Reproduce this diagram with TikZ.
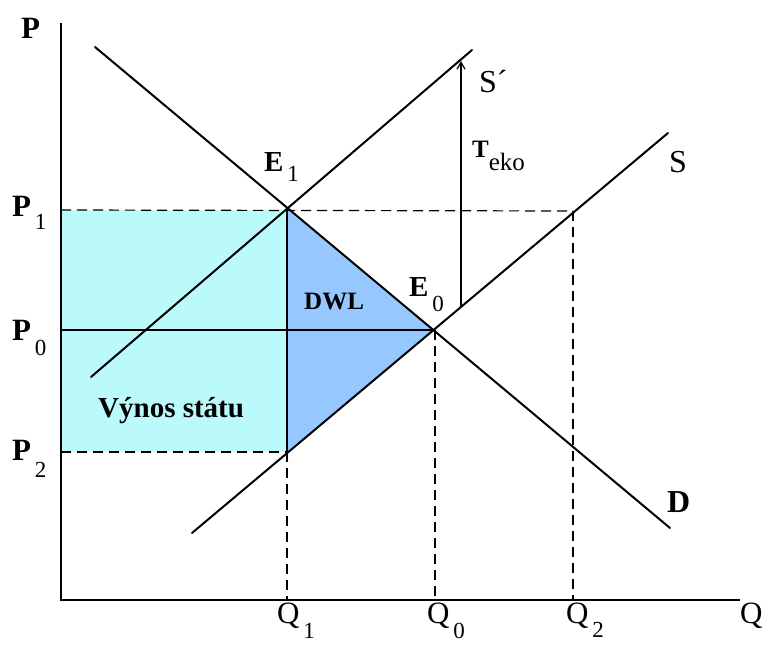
\documentclass[tikz,border=0pt]{standalone}
\usepackage{fontspec}
\setmainfont{Liberation Serif}
\usetikzlibrary{arrows.meta}
\definecolor{revcyan}{RGB}{187,250,250}
\definecolor{dwlblue}{RGB}{150,200,255}
\newcommand{\labsub}[3]{#1\raisebox{-#3pt}{\mdseries\fontsize{23}{23}\selectfont\,#2}}
\tikzset{
  curve/.style={line width=2pt, line cap=round},
  axis/.style={line width=1.6pt},
  guide/.style={line width=1.2pt},
  dguide/.style={line width=1.2pt, dash pattern=on 10pt off 6pt},
  lab/.style={inner sep=0pt, anchor=base west, font=\fontsize{31}{31}\selectfont},
  blab/.style={lab, font=\fontsize{31}{31}\selectfont\bfseries},
}
\begin{document}
\begin{tikzpicture}[x=1pt,y=-1pt]
\useasboundingbox (0,0) rectangle (766,647);
% key points
\coordinate (O) at (61,600);
\coordinate (Ytop) at (61,23);
\coordinate (Xend) at (740,600);
\coordinate (E1) at (287,209);
\coordinate (E0) at (435,330);
\coordinate (B) at (287,452);
\coordinate (C) at (573,211);
\coordinate (P1a) at (61,210);
\coordinate (P0a) at (61,330);
\coordinate (P2a) at (61,452);
\coordinate (Q1a) at (287,600);
\coordinate (Q0a) at (435,600);
\coordinate (Q2a) at (573,600);
\coordinate (Da) at (95,47);
\coordinate (Db) at (670,528);
\coordinate (Sa) at (192,533);
\coordinate (Sb) at (668,133);
\coordinate (Spa) at (91,377);
\coordinate (Spb) at (472,50);
\coordinate (Tlo) at (461,307);
\coordinate (Thi) at (461,61);
% fills
\fill[revcyan] (P1a) rectangle (B);
\fill[dwlblue] (E1) -- (E0) -- (B) -- cycle;
% guides
\draw[dguide] (P1a) -- (C);
\draw[dguide] (P2a) -- (B);
\draw[dguide] (B) -- (Q1a);
\draw[dguide] (E0) -- (Q0a);
\draw[dguide] (C) -- (Q2a);
\draw[guide] (P0a) -- (E0);
\draw[guide] (E1) -- (B);
% curves
\draw[curve] (Da) -- (Db);
\draw[curve] (Sa) -- (Sb);
\draw[curve] (Spa) -- (Spb);
% axes
\draw[axis] (Ytop) -- (O) -- (Xend);
% tax arrow
\draw[guide, -{Straight Barb[length=7pt,width=8pt]}] (Tlo) -- (Thi);
% labels
\node[blab] (lP) at (21,39) {P};
\node[blab] (lP1) at (12,217) {\labsub{P}{1}{13}};
\node[blab] (lP0) at (12,340) {\labsub{P}{0}{15}};
\node[blab] (lP2) at (12,460) {\labsub{P}{2}{17}};
\node[lab] (lQ1) at (277,623) {\labsub{Q}{1}{15}};
\node[lab] (lQ0) at (427,623) {\labsub{Q}{0}{15}};
\node[lab] (lQ2) at (566,623) {\labsub{Q}{2}{14}};
\node[lab] (lQ) at (740,623) {Q};
\node[blab, font=\fontsize{29}{29}\selectfont\bfseries] (lE1) at (264,172) {\labsub{E}{1}{10}};
\node[blab, font=\fontsize{29}{29}\selectfont\bfseries] (lE0) at (409,297) {\labsub{E}{0}{15}};
\node[blab, font=\fontsize{25}{25}\selectfont\bfseries] (lDWL) at (304,309) {DWL};
\node[blab, font=\fontsize{29}{29}\selectfont\bfseries] (lV) at (98,417) {Výnos státu};
\node[lab] (lT) at (472,158) {\textbf{\fontsize{25}{25}\selectfont T}\raisebox{-13pt}{\fontsize{25}{25}\selectfont eko}};
\node[lab, font=\fontsize{32}{32}\selectfont] (lSp) at (479,93) {S´};
\node[lab, font=\fontsize{32}{32}\selectfont] (lS) at (669,173) {S};
\node[blab, font=\fontsize{32}{32}\selectfont\bfseries] (lD) at (667,512) {D};
\end{tikzpicture}
\end{document}
